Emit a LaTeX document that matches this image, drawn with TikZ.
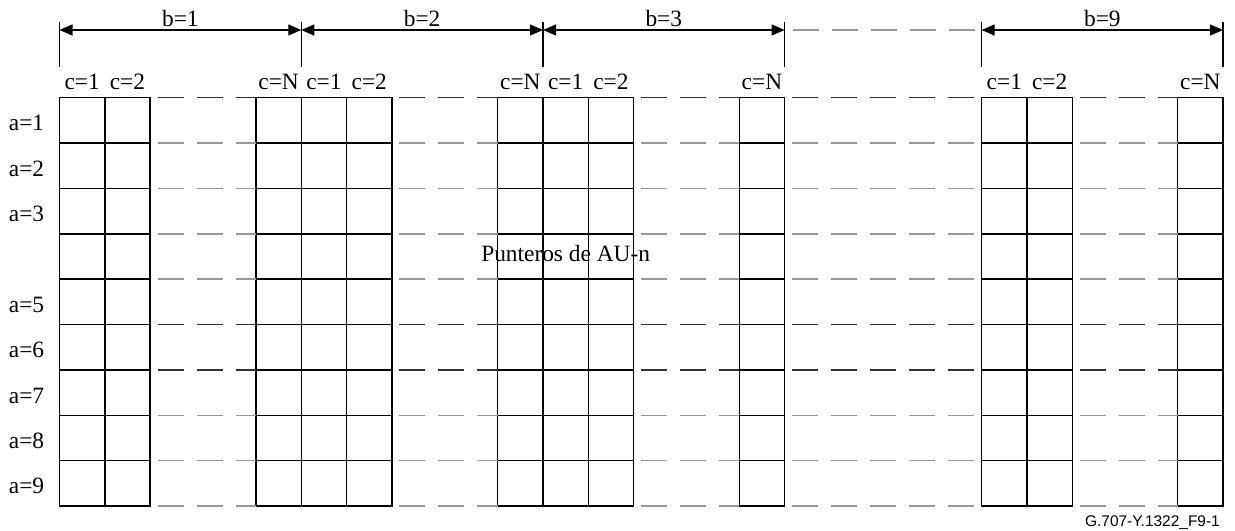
\documentclass[tikz,border=0pt]{standalone}
\usepackage{fontspec}
\setmainfont{Liberation Serif}
\newfontfamily\figfont{Liberation Sans}
\usepackage{xcolor}
\usepackage{tikz}
\usetikzlibrary{arrows.meta,positioning}
\colorlet{dashdark}{black!80}
\colorlet{dashpale}{black!40}

\begin{document}
\begin{tikzpicture}[
    font=\fontsize{13.3}{15}\selectfont,
    cell/.style={draw, line width=0.8pt, minimum width=0.906cm, minimum height=0.9074cm, inner sep=0pt, outer sep=0pt},
    gapline/.style={line width=0.8pt, dash pattern=on 0.52cm off 0.26cm},
    tick/.style={line width=0.7pt},
    dimarrow/.style={>={Triangle[length=0.26cm,width=0.22cm]}, <->, line width=0.7pt},
    collabel/.style={inner sep=0.15cm},
    rowlabel/.style={inner sep=0.15cm}
  ]
    \useasboundingbox (0,0) rectangle (24.7,-10.62);
    \foreach \x [count=\k] in {1.19,2.096,5.12,6.026,6.932,9.954,10.86,11.766,14.786,19.634,20.54,23.554}
      \foreach \r in {1,...,9}
        \node[cell] (c\k-\r) at ({\x+0.453},{-1.954-(\r-0.5)*0.9074}) {};
    \foreach \k/\t in {1/1,2/2,3/N,4/1,5/2,6/N,7/1,8/2,9/N,10/1,11/2,12/N}
      \node[collabel, above=0pt of c\k-1] (h\k) {c=\t};
    \foreach \r in {1,2,3,5,6,7,8,9}
      \node[rowlabel, left=0.15cm of c1-\r, yshift=-0.06cm] (a\r) {a=\r};
    \node[yshift=0.06cm] (ptr) at (c7-4) {Punteros de AU-n};
    \foreach \a/\b in {2/3,5/6,8/9,9/10,11/12} {
      \draw[gapline, draw=dashdark] ([xshift=0.15cm]c\a-1.north east) -- (c\b-1.north west);
      \foreach \r/\t in {1/dashpale,2/dashpale,3/dashpale,4/dashpale,5/dashdark,6/dashdark,7/dashpale,8/dashpale,9/dashpale}
        \draw[gapline, draw=\t] ([xshift=0.15cm]c\a-\r.south east) -- (c\b-\r.south west);
    }
    \coordinate (m0) at ([yshift=1.354cm]c1-1.north west);
    \coordinate (m1) at ([yshift=1.354cm]c4-1.north west);
    \coordinate (m2) at ([yshift=1.354cm]c7-1.north west);
    \coordinate (m3) at ([yshift=1.354cm]c9-1.north east);
    \coordinate (m4) at ([yshift=1.354cm]c10-1.north west);
    \coordinate (m5) at ([yshift=1.354cm]c12-1.north east);
    \foreach \m in {m0,m1,m2,m3,m4,m5}
      \draw[tick] ([yshift=0.16cm]\m) -- ([yshift=-0.74cm]\m);
    \draw[dimarrow] (m0) -- node[above, inner sep=1.5pt] (lb1) {b=1} (m1);
    \draw[dimarrow] (m1) -- node[above, inner sep=1.5pt] (lb2) {b=2} (m2);
    \draw[dimarrow] (m2) -- node[above, inner sep=1.5pt] (lb3) {b=3} (m3);
    \draw[gapline, draw=dashpale] ([xshift=0.16cm]m3) -- ([xshift=-0.13cm]m4);
    \draw[dimarrow] (m4) -- node[above, inner sep=1.5pt] (lb9) {b=9} (m5);
    \node[font=\figfont\fontsize{8.8}{10}\selectfont, anchor=base east] (figid) at (24.52,-10.534) {G.707-Y.1322\_F9-1};
  \end{tikzpicture}
\end{document}
